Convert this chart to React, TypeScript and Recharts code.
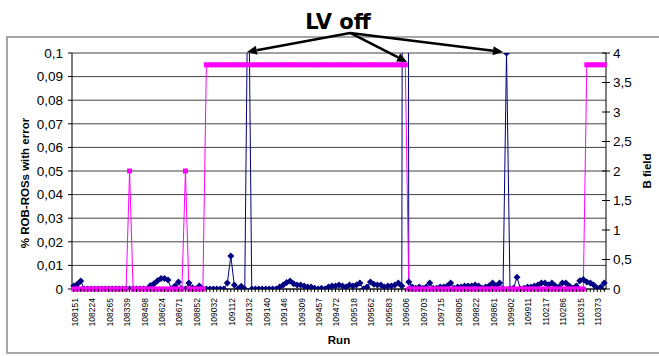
import React from 'react';
import { ComposedChart, Line, XAxis, YAxis, CartesianGrid, ReferenceLine, Label } from 'recharts';

const runLabels = [
  '108151', '108224', '108265', '108339', '108498', '108624', '108671', '108852', '109032', '109112',
  '109132', '109140', '109146', '109309', '109457', '109472', '109518', '109562', '109583', '109606',
  '109703', '109715', '109805', '109822', '109861', '109902', '109911', '110217', '110286', '110315',
  '110373',
];
const labelEvery = 5;

// % ROB-ROSs with error (left axis)
const rosErrors = [
  0.0013, 0.002, 0.0034, 0, 0, 0, 0, 0, 0, 0,
  0, 0, 0, 0, 0, 0, 0, 0, 0, 0,
  0, 0, 0.0015, 0.0022, 0.0035, 0.0045, 0.0045, 0.0038, 0, 0.0013,
  0.003, 0, 0, 0.0025, 0.0005, 0, 0.0013, 0, 0, 0,
  0, 0, 0, 0, 0.0025, 0.014, 0.0017, 0, 0.0012, 0,
  0.15, 0, 0, 0, 0, 0, 0, 0, 0, 0.0008,
  0.0017, 0.0028, 0.0034, 0.0022, 0.0017, 0.0017, 0.0013, 0.0008, 0.0008, 0.0003,
  0, 0.0003, 0, 0.0008, 0.0013, 0.0013, 0.0017, 0.0013, 0.0008, 0.0017,
  0.0013, 0.0017, 0.0025, 0, 0.0008, 0.003, 0.002, 0.0017, 0.0017, 0.0008,
  0.0013, 0.0013, 0.0017, 0.0025, 0.0013, 1.0, 0.003, 0.0008, 0.0003, 0.0008,
  0.0003, 0.0008, 0.0025, 0.0003, 0.0003, 0.0008, 0.0008, 0.0013, 0.0025, 0.0003,
  0.0008, 0.0008, 0.0013, 0.0013, 0.0013, 0.0017, 0.0013, 0.0003, 0.0008, 0.0013,
  0.0025, 0.0013, 0.0025, 0, 0.1, 0, 0.0003, 0.005, 0, 0.0003,
  0.0008, 0.0008, 0.0013, 0.0017, 0.0025, 0.0025, 0.0017, 0.0025, 0.0013, 0.0008,
  0.0025, 0.0025, 0.0013, 0.0003, 0.0013, 0.0035, 0.004, 0.003, 0.0025, 0.0017,
  0.0003, 0.0008, 0.0025,
];

// B field (right axis)
const bField = [
  0, 0, 0, 0, 0, 0, 0, 0, 0, 0,
  0, 0, 0, 0, 0, 0, 2, 0, 0, 0,
  0, 0, 0, 0, 0, 0, 0, 0, 0, 0,
  0, 0, 2, 0, 0, 0, 0, 0, 3.8, 3.8,
  3.8, 3.8, 3.8, 3.8, 3.8, 3.8, 3.8, 3.8, 3.8, 3.8,
  3.8, 3.8, 3.8, 3.8, 3.8, 3.8, 3.8, 3.8, 3.8, 3.8,
  3.8, 3.8, 3.8, 3.8, 3.8, 3.8, 3.8, 3.8, 3.8, 3.8,
  3.8, 3.8, 3.8, 3.8, 3.8, 3.8, 3.8, 3.8, 3.8, 3.8,
  3.8, 3.8, 3.8, 3.8, 3.8, 3.8, 3.8, 3.8, 3.8, 3.8,
  3.8, 3.8, 3.8, 3.8, 3.8, 3.8, 0, 0, 0, 0,
  0, 0, 0, 0, 0, 0, 0, 0, 0, 0,
  0, 0, 0, 0, 0, 0, 0, 0, 0, 0,
  0, 0, 0, 0, 0, 0, 0, 0, 0, 0,
  0, 0, 0, 0, 0, 0, 0, 0, 0, 0,
  0, 0, 0, 0, 0, 0, 0, 3.8, 3.8, 3.8,
  3.8, 3.8, 3.8,
];

const leftTicks = [0, 0.01, 0.02, 0.03, 0.04, 0.05, 0.06, 0.07, 0.08, 0.09, 0.1];
const rightTicks = [0, 0.5, 1, 1.5, 2, 2.5, 3, 3.5, 4];

// "LV off" annotation arrows, in data coordinates (run index, left-axis value)
const arrowTail = { x: 79.2, y: 0.1085 };
const arrowHeads = [
  { x: 49.6, y: 0.1004 },
  { x: 95.5, y: 0.0962 },
  { x: 123.0, y: 0.1004 },
];

const data = rosErrors.map((v, i) => ({ i, ros: v, b: bField[i] }));
const xTicks = rosErrors.map((_, i) => i);

const FONT = '"Liberation Sans", Arial, sans-serif';
const fmt = (v: number) => String(v).replace('.', ',');

const RunTick = (props: any) => {
  const { x, y, payload } = props;
  const i = payload.value;
  const lbl = i % labelEvery === 0 ? runLabels[i / labelEvery] : null;
  const tx = x + 1;
  const ty = y + 9;
  return (
    <g>
      <line x1={x} y1={y} x2={x} y2={y + 3} stroke="#000" strokeWidth={1} />
      {lbl && (
        <text
          x={tx}
          y={ty}
          transform={`rotate(-90 ${tx} ${ty})`}
          textAnchor="end"
          dy="0.35em"
          fontSize={8.5}
          fontFamily={FONT}
          fill="#000"
        >
          {lbl}
        </text>
      )}
    </g>
  );
};

const RightTick = (props: any) => {
  const { x, y, payload } = props;
  return (
    <g>
      <line x1={x - 4} y1={y} x2={x + 4} y2={y} stroke="#000" strokeWidth={1} />
      <text x={x + 7} y={y} dy="0.35em" fontSize={13.5} fontFamily={FONT} fill="#000" textAnchor="start">
        {fmt(payload.value)}
      </text>
    </g>
  );
};

const Diamond = (props: any) => {
  const { cx, cy, index } = props;
  if (cx == null || cy == null) return <g key={`d-${index}`} />;
  const r = 3.5;
  return (
    <path
      key={`d-${index}`}
      d={`M${cx},${cy - r}L${cx + r},${cy}L${cx},${cy + r}L${cx - r},${cy}Z`}
      fill="#000080"
    />
  );
};

const Square = (props: any) => {
  const { cx, cy, index } = props;
  if (cx == null || cy == null) return <g key={`s-${index}`} />;
  return <rect key={`s-${index}`} x={cx - 2.5} y={cy - 2.5} width={5} height={5} fill="#FF00FF" />;
};

const ArrowShape = (p: any) => {
  const { x1, y1, x2, y2 } = p;
  if ([x1, y1, x2, y2].some((v) => v == null || isNaN(v))) return <g />;
  const dx = x2 - x1;
  const dy = y2 - y1;
  const len = Math.hypot(dx, dy) || 1;
  const ux = dx / len;
  const uy = dy / len;
  const hl = 10;
  const hw = 4.5;
  const bx = x2 - ux * hl;
  const by = y2 - uy * hl;
  const pts = `${x2},${y2} ${bx - uy * hw},${by + ux * hw} ${bx + uy * hw},${by - ux * hw}`;
  return (
    <g>
      <line x1={x1} y1={y1} x2={bx} y2={by} stroke="#000" strokeWidth={2.5} />
      <polygon points={pts} fill="#000" />
    </g>
  );
};

const leftTitle = (props: any) => {
  const vb = props.viewBox || { x: 7, y: 53, width: 65, height: 236 };
  const x = vb.x + 18;
  const y = vb.y + vb.height / 2 + 12;
  return (
    <text
      x={x}
      y={y}
      transform={`rotate(-90 ${x} ${y})`}
      textAnchor="middle"
      dominantBaseline="central"
      fontSize={11.5}
      fontWeight="bold"
      fontFamily={FONT}
      fill="#000"
    >
      % ROB-ROSs with error
    </text>
  );
};

const rightTitle = (props: any) => {
  const vb = props.viewBox || { x: 606, y: 53, width: 45, height: 236 };
  const x = vb.x + 41;
  const y = vb.y + vb.height / 2;
  return (
    <text
      x={x}
      y={y}
      transform={`rotate(-90 ${x} ${y})`}
      textAnchor="middle"
      dominantBaseline="central"
      fontSize={11.5}
      fontWeight="bold"
      fontFamily={FONT}
      fill="#000"
    >
      B field
    </text>
  );
};

const xTitle = (props: any) => {
  const vb = props.viewBox || { x: 72, y: 289, width: 534, height: 60 };
  return (
    <text
      x={vb.x + vb.width / 2}
      y={vb.y + 51}
      textAnchor="middle"
      dominantBaseline="central"
      fontSize={11.5}
      fontWeight="bold"
      fontFamily={FONT}
      fill="#000"
    >
      Run
    </text>
  );
};

export default function App() {
  return (
    <div style={{ position: 'absolute', left: 0, top: 0, width: 659, height: 356, background: '#fff', overflow: 'hidden' }}>
      <div
        style={{
          position: 'absolute',
          left: 6,
          top: 36,
          width: 660,
          height: 314,
          border: '2px solid #a6a6a6',
        }}
      />
      <div
        style={{
          position: 'absolute',
          left: 268,
          top: 12,
          width: 140,
          textAlign: 'center',
          fontFamily: '"DejaVu Sans", sans-serif',
          fontWeight: 'bold',
          fontSize: 21,
          lineHeight: '21px',
          color: '#000',
        }}
      >
        LV off
      </div>
      <div style={{ position: 'absolute', left: 0, top: 0 }}>
        <ComposedChart width={659} height={356} data={data} margin={{ top: 53, right: 8, bottom: 7, left: 7 }}>
          <CartesianGrid yAxisId="left" vertical={false} stroke="#404040" strokeWidth={1} />
          <XAxis
            dataKey="i"
            type="number"
            domain={[-0.5, 152.5]}
            ticks={xTicks}
            interval={0}
            tick={RunTick}
            tickLine={false}
            tickSize={0}
            tickMargin={0}
            axisLine={{ stroke: '#000', strokeWidth: 1 }}
            height={60}
          >
            <Label content={xTitle} />
          </XAxis>
          <YAxis
            yAxisId="left"
            domain={[0, 0.1]}
            ticks={leftTicks}
            interval={0}
            allowDataOverflow
            width={65}
            tickFormatter={fmt}
            tick={{ fontSize: 13.5, fill: '#000', fontFamily: FONT }}
            tickSize={4}
            tickMargin={5}
            axisLine={{ stroke: '#000', strokeWidth: 1 }}
            tickLine={{ stroke: '#000', strokeWidth: 1 }}
          >
            <Label content={leftTitle} />
          </YAxis>
          <YAxis
            yAxisId="right"
            orientation="right"
            domain={[0, 4]}
            ticks={rightTicks}
            interval={0}
            width={45}
            tick={RightTick}
            tickLine={false}
            tickSize={0}
            tickMargin={0}
            axisLine={{ stroke: '#000', strokeWidth: 1 }}
          >
            <Label content={rightTitle} />
          </YAxis>
          <Line
            yAxisId="left"
            type="linear"
            dataKey="ros"
            stroke="#000080"
            strokeWidth={1}
            dot={Diamond}
            activeDot={false}
            isAnimationActive={false}
          />
          <Line
            yAxisId="right"
            type="linear"
            dataKey="b"
            stroke="#FF00FF"
            strokeWidth={1}
            dot={Square}
            activeDot={false}
            isAnimationActive={false}
          />
          {arrowHeads.map((h, k) => (
            <ReferenceLine
              key={`arr-${k}`}
              yAxisId="left"
              ifOverflow="visible"
              segment={[arrowTail, h]}
              shape={ArrowShape}
            />
          ))}
        </ComposedChart>
      </div>
    </div>
  );
}
